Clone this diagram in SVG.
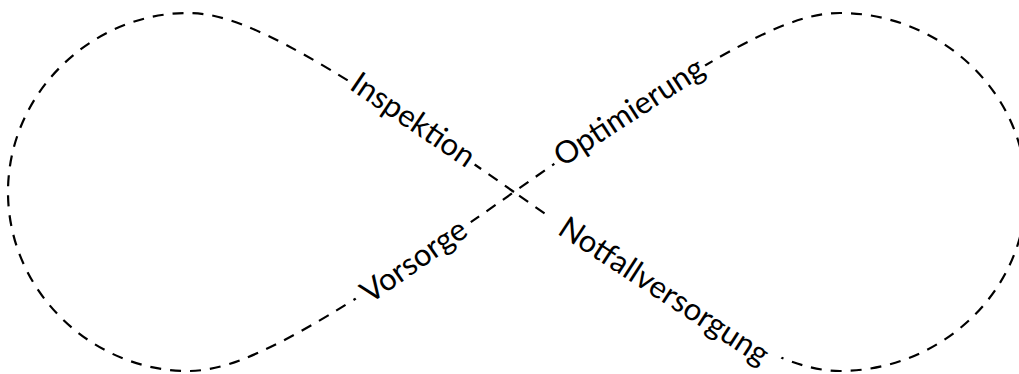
<svg xmlns="http://www.w3.org/2000/svg" width="1019" height="374" viewBox="0 0 1019 374">
  <style>
    .loop { fill: none; stroke: #000; stroke-width: 2.2; stroke-dasharray: 11 9; }
    .label { font-family: Lato, "Open Sans", "Liberation Sans", sans-serif; font-size: 31px; fill: #000; text-anchor: middle; }
  </style>
  <defs>
    <mask id="gaps" maskUnits="userSpaceOnUse" x="0" y="0" width="1019" height="374">
      <rect x="0" y="0" width="1019" height="374" fill="#fff"/>
      <rect x="337" y="103" width="152" height="34" fill="#000" transform="rotate(34 413 120)"/>
      <rect x="538" y="95" width="180" height="34" fill="#000" transform="rotate(-33 628 112)"/>
      <rect x="344" y="243" width="138" height="34" fill="#000" transform="rotate(-35 413 260)"/>
      <rect x="528" y="275" width="270" height="34" fill="#000" transform="rotate(33 663 292)"/>
    </mask>
  </defs>
  <rect width="1019" height="374" fill="#fff"/>
  <g id="connectors">
    <path class="loop" mask="url(#gaps)" d="M514,192 C301,42 235,13 188,13 C93,13 8,92 8,192 C8,292 93,371 188,371 C235,371 301,342 514,192 C727,42 793,13 840,13 C940,13 1026,92 1026,192 C1026,292 940,371 840,371 C793,371 727,342 514,192 Z"/>
  </g>
  <g id="node-inspektion">
    <text class="label" x="413" y="120" dy="0.33em" transform="rotate(34 413 120)">Inspektion</text>
  </g>
  <g id="node-optimierung">
    <text class="label" x="629" y="112" dy="0.33em" transform="rotate(-33 629 112)">Optimierung</text>
  </g>
  <g id="node-vorsorge">
    <text class="label" x="414" y="261" dy="0.33em" transform="rotate(-35 414 261)">Vorsorge</text>
  </g>
  <g id="node-notfallversorgung">
    <text class="label" x="664" y="291" dy="0.33em" transform="rotate(33 664 291)">Notfallversorgung</text>
  </g>
</svg>
